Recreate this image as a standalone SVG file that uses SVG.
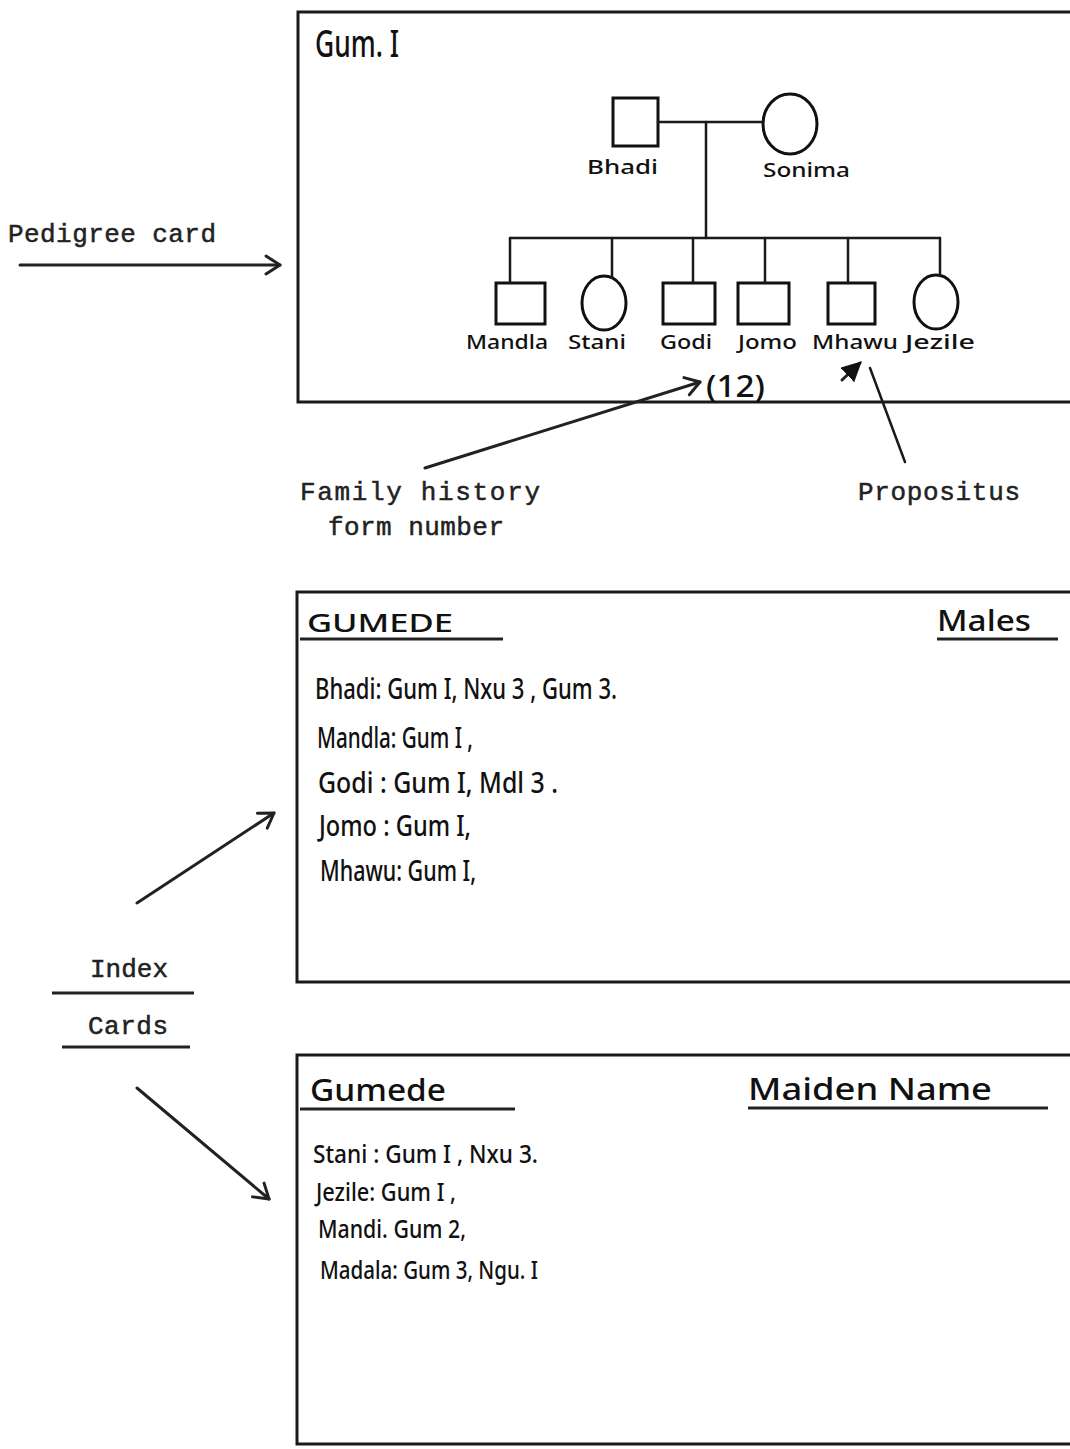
<svg xmlns="http://www.w3.org/2000/svg" width="1070" height="1449" viewBox="0 0 1070 1449">
<style>
.card{fill:none;stroke:#1a1a1a;stroke-width:3}
.ln{fill:none;stroke:#1a1a1a;stroke-width:2.5;stroke-linecap:round}
.hand{font-family:"Noto Sans","Liberation Sans",sans-serif;fill:#111;font-weight:500}
.type{font-family:"Liberation Mono","Courier New",monospace;fill:#222;font-size:26px;stroke:#222;stroke-width:0.5}
.ul{stroke:#222;stroke-width:3}
.sym{fill:none;stroke:#111;stroke-width:3}
.arr{fill:none;stroke:#222;stroke-width:3;stroke-linecap:round}
</style>
<defs>
<marker id="vhead" markerUnits="userSpaceOnUse" markerWidth="24" markerHeight="24" refX="16" refY="10" orient="auto" viewBox="0 0 24 20">
<path d="M2,1 L16,10 L2,19" fill="none" stroke="#222" stroke-width="3" stroke-linecap="round" stroke-linejoin="round"/>
</marker>
<marker id="fhead" markerUnits="userSpaceOnUse" markerWidth="20" markerHeight="20" refX="14" refY="8" orient="auto" viewBox="0 0 16 16">
<path d="M0,0 L16,8 L0,16 Z" fill="#111"/>
</marker>
</defs>
<rect width="1070" height="1449" fill="#fff"/>

<!-- Pedigree card -->
<g id="pedigree-card">
<path class="card" d="M1075,12 L298,12 L298,402 L1075,402"/>
<text class="hand" x="315" y="57" font-size="38" textLength="84" lengthAdjust="spacingAndGlyphs">Gum. I</text>
</g>
<g id="bhadi"><rect class="sym" x="613" y="98" width="45" height="48"/><text class="hand" x="587" y="174" font-size="20" textLength="71" lengthAdjust="spacingAndGlyphs">Bhadi</text></g>
<g id="sonima"><ellipse class="sym" cx="790" cy="124" rx="27" ry="30"/><text class="hand" x="763" y="177" font-size="20" textLength="87" lengthAdjust="spacingAndGlyphs">Sonima</text></g>
<g id="mandla"><rect class="sym" x="496" y="283" width="49" height="41"/><text class="hand" x="466" y="349" font-size="19" font-weight="700" textLength="82" lengthAdjust="spacingAndGlyphs">Mandla</text></g>
<g id="stani"><ellipse class="sym" cx="604" cy="303" rx="22" ry="27"/><text class="hand" x="568" y="349" font-size="19" font-weight="700" textLength="58" lengthAdjust="spacingAndGlyphs">Stani</text></g>
<g id="godi"><rect class="sym" x="663" y="283" width="52" height="41"/><text class="hand" x="660" y="349" font-size="19" font-weight="700" textLength="52" lengthAdjust="spacingAndGlyphs">Godi</text></g>
<g id="jomo"><rect class="sym" x="738" y="283" width="51" height="41"/><text class="hand" x="738" y="349" font-size="19" font-weight="700" textLength="59" lengthAdjust="spacingAndGlyphs">Jomo</text></g>
<g id="mhawu"><rect class="sym" x="828" y="283" width="47" height="41"/><text class="hand" x="812" y="349" font-size="19" font-weight="700" textLength="86" lengthAdjust="spacingAndGlyphs">Mhawu</text></g>
<g id="jezile"><ellipse class="sym" cx="936" cy="302" rx="22" ry="27"/><text class="hand" x="905" y="349" font-size="19" font-weight="700" textLength="70" lengthAdjust="spacingAndGlyphs">Jezile</text></g>
<g id="form-number"><text class="hand" x="706" y="397" font-size="30" textLength="59" lengthAdjust="spacingAndGlyphs">(12)</text></g>

<!-- Labels -->
<g id="label-pedigree"><text class="type" x="8" y="242" textLength="208">Pedigree card</text></g>
<g id="label-family"><text class="type" x="300" y="500" textLength="240">Family history</text><text class="type" x="328" y="535" textLength="176">form number</text></g>
<g id="label-propositus"><text class="type" x="858" y="500" textLength="162">Propositus</text></g>
<g id="label-index">
<text class="type" x="90" y="977" textLength="78">Index</text>
<line class="ul" x1="52" y1="993" x2="194" y2="993"/>
<text class="type" x="88" y="1034" textLength="80">Cards</text>
<line class="ul" x1="62" y1="1047" x2="190" y2="1047"/>
</g>

<!-- Males index card -->
<g id="males-card">
<path class="card" d="M1075,592 L297,592 L297,982 L1075,982"/>
<text class="hand" x="307" y="632" font-size="25" textLength="146" lengthAdjust="spacingAndGlyphs">GUMEDE</text>
<line class="ul" x1="300" y1="639" x2="503" y2="639"/>
<text class="hand" x="937" y="631" font-size="29" textLength="94" lengthAdjust="spacingAndGlyphs">Males</text>
<line class="ul" x1="937" y1="639" x2="1058" y2="639"/>
<text class="hand" x="315" y="699" font-size="28" textLength="302" lengthAdjust="spacingAndGlyphs">Bhadi: Gum I, Nxu 3 , Gum 3.</text>
<text class="hand" x="317" y="748" font-size="28" textLength="156" lengthAdjust="spacingAndGlyphs">Mandla: Gum I ,</text>
<text class="hand" x="318" y="793" font-size="28" textLength="240" lengthAdjust="spacingAndGlyphs">Godi : Gum I, Mdl 3 .</text>
<text class="hand" x="319" y="836" font-size="28" textLength="152" lengthAdjust="spacingAndGlyphs">Jomo : Gum I,</text>
<text class="hand" x="320" y="881" font-size="28" textLength="156" lengthAdjust="spacingAndGlyphs">Mhawu: Gum I,</text>
</g>

<!-- Maiden name index card -->
<g id="maiden-card">
<path class="card" d="M1075,1055 L297,1055 L297,1444 L1075,1444"/>
<text class="hand" x="310" y="1101" font-size="31" textLength="136" lengthAdjust="spacingAndGlyphs">Gumede</text>
<line class="ul" x1="300" y1="1109" x2="515" y2="1109"/>
<text class="hand" x="748" y="1100" font-size="31" textLength="244" lengthAdjust="spacingAndGlyphs">Maiden Name</text>
<line class="ul" x1="748" y1="1108" x2="1048" y2="1108"/>
<text class="hand" x="313" y="1163" font-size="26" textLength="225" lengthAdjust="spacingAndGlyphs">Stani : Gum I , Nxu 3.</text>
<text class="hand" x="316" y="1201" font-size="26" textLength="140" lengthAdjust="spacingAndGlyphs">Jezile: Gum I ,</text>
<text class="hand" x="318" y="1238" font-size="26" textLength="148" lengthAdjust="spacingAndGlyphs">Mandi. Gum 2,</text>
<text class="hand" x="320" y="1279" font-size="26" textLength="218" lengthAdjust="spacingAndGlyphs">Madala: Gum 3, Ngu. I</text>
</g>

<!-- Connectors -->
<g id="connectors">
<line class="ln" x1="658" y1="122" x2="763" y2="122"/>
<line class="ln" x1="706" y1="122" x2="706" y2="238"/>
<line class="ln" x1="510" y1="238" x2="940" y2="238"/>
<line class="ln" x1="510" y1="238" x2="510" y2="283"/>
<line class="ln" x1="612" y1="238" x2="612" y2="277"/>
<line class="ln" x1="693" y1="238" x2="693" y2="283"/>
<line class="ln" x1="765" y1="238" x2="765" y2="283"/>
<line class="ln" x1="848" y1="238" x2="848" y2="283"/>
<line class="ln" x1="940" y1="238" x2="940" y2="276"/>
<line class="arr" x1="20" y1="265" x2="280" y2="265" stroke-width="3.5" marker-end="url(#vhead)"/>
<line class="arr" x1="425" y1="468" x2="700" y2="382" stroke-width="2.5" marker-end="url(#vhead)"/>
<line class="arr" x1="842" y1="380" x2="860" y2="363" stroke-width="4" marker-end="url(#fhead)"/>
<line class="ln" x1="870" y1="368" x2="905" y2="462" stroke-width="2"/>
<line class="arr" x1="137" y1="903" x2="274" y2="813" marker-end="url(#vhead)"/>
<line class="arr" x1="137" y1="1088" x2="269" y2="1199" marker-end="url(#vhead)"/>
</g>
</svg>
